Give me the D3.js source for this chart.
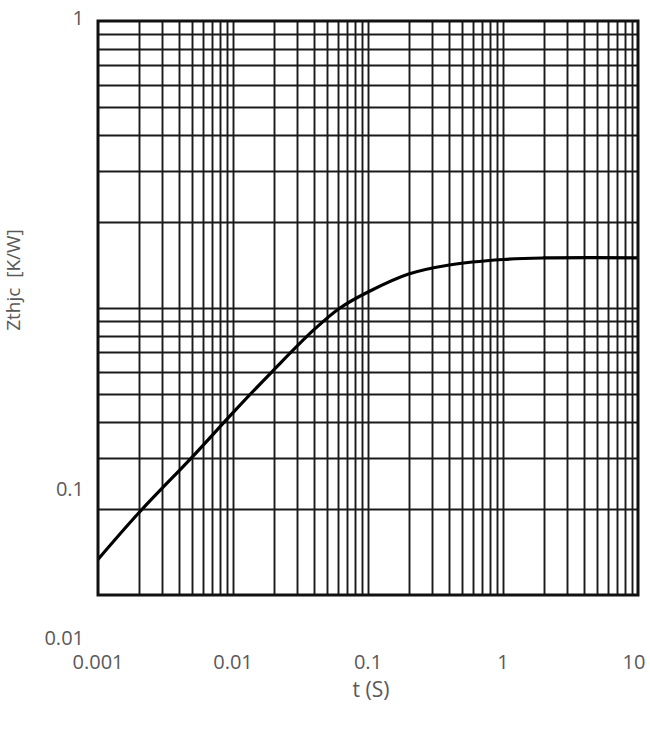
<!DOCTYPE html>
<html>
<head>
<meta charset="utf-8">
<script src="https://cdnjs.cloudflare.com/ajax/libs/d3/7.8.5/d3.min.js"></script>
<style>
  body { margin: 0; background: #fff; }
  #chart text { font-family: "Open Sans", sans-serif; fill: #595959; white-space: pre; }
</style>
</head>
<body>
<div id="chart"></div>
<script>
// Zthjc curve
let timeValues = [0.001, 0.002, 0.005, 0.01, 0.02, 0.04, 0.062, 0.1, 0.2, 0.4, 1, 2, 10];
let zthValues = [0.0133, 0.0193, 0.0303, 0.0432, 0.0608, 0.0842, 0.1, 0.1137, 0.1313, 0.1412, 0.1476, 0.1494, 0.1496];

let xTickLabels = [0.001, 0.01, 0.1, 1, 10];
let yTickLabels = [0.01, 0.1, 1];
let xTitle = "t (S)";
let yTitle = "Zthjc  [K/W]";

let width = 650;
let height = 729;
let plotLeft = 98, plotRight = 638, plotTop = 21, plotBottom = 595;

let svg = d3.select("#chart").append("svg")
  .attr("width", width)
  .attr("height", height);

let x = d3.scaleLog().domain([0.001, 10]).range([plotLeft, plotRight]);
let y = d3.scaleLog().domain([0.01, 1]).range([plotBottom, plotTop]);
// the tick labels in the original sit off the grid, so they get their own scale
let yLabel = d3.scaleLog().domain([0.01, 0.1, 1]).range([637, 488, 17]);

// minor grid, every 1..9 of each decade
let xGrid = x.ticks().filter(d => d > 0.001 && d < 10);
let yGrid = y.ticks().filter(d => d > 0.01 && d < 1);

svg.append("g").selectAll("line")
  .data(xGrid).enter()
  .append("line")
  .attr("x1", d => Math.round(x(d)) + 0.5)
  .attr("x2", d => Math.round(x(d)) + 0.5)
  .attr("y1", plotTop)
  .attr("y2", plotBottom)
  .attr("stroke", "#1a1a1a")
  .attr("stroke-width", 1.9);

svg.append("g").selectAll("line")
  .data(yGrid).enter()
  .append("line")
  .attr("y1", d => Math.round(y(d)) + 0.5)
  .attr("y2", d => Math.round(y(d)) + 0.5)
  .attr("x1", plotLeft)
  .attr("x2", plotRight)
  .attr("stroke", "#1a1a1a")
  .attr("stroke-width", 1.9);

svg.append("clipPath").attr("id", "plot")
  .append("rect")
  .attr("x", plotLeft).attr("y", plotTop)
  .attr("width", plotRight - plotLeft).attr("height", plotBottom - plotTop);

let line = d3.line()
  .x(d => x(d[0]))
  .y(d => y(d[1]))
  .curve(d3.curveCatmullRom.alpha(0.5));

svg.append("path")
  .datum(timeValues.map((t, i) => [t, zthValues[i]]))
  .attr("clip-path", "url(#plot)")
  .attr("d", line)
  .attr("fill", "none")
  .attr("stroke", "#000")
  .attr("stroke-width", 3.2);

// frame
svg.append("rect")
  .attr("x", plotLeft)
  .attr("y", plotTop)
  .attr("width", plotRight - plotLeft)
  .attr("height", plotBottom - plotTop)
  .attr("fill", "none")
  .attr("stroke", "#111")
  .attr("stroke-width", 3);

// tick labels
svg.append("g").selectAll("text")
  .data(xTickLabels).enter()
  .append("text")
  .attr("x", d => x(d) - (d === 10 ? 4 : 0))
  .attr("y", 661)
  .attr("text-anchor", "middle")
  .attr("dominant-baseline", "central")
  .style("font-size", "20px")
  .text(d => d);

svg.append("g").selectAll("text")
  .data(yTickLabels).enter()
  .append("text")
  .attr("x", 84)
  .attr("y", d => yLabel(d))
  .attr("text-anchor", "end")
  .attr("dominant-baseline", "central")
  .style("font-size", "20px")
  .text(d => d);

svg.append("text")
  .attr("x", (plotLeft + plotRight) / 2 + 3)
  .attr("y", 689)
  .attr("text-anchor", "middle")
  .attr("dominant-baseline", "central")
  .style("font-size", "21px")
  .text(xTitle);

svg.append("text")
  .attr("transform", "translate(13,280) rotate(-90)")
  .attr("text-anchor", "middle")
  .attr("dominant-baseline", "central")
  .style("font-size", "19px")
  .text(yTitle);
</script>
</body>
</html>
